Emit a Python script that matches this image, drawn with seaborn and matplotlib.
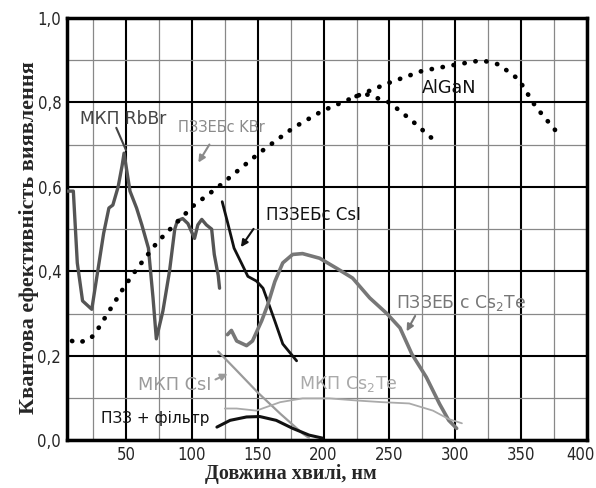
import numpy as np
import pandas as pd
import seaborn as sns
import matplotlib.pyplot as plt
import matplotlib.transforms as mtransforms
from matplotlib.ticker import MultipleLocator, FuncFormatter

# curves (wavelength nm, efficiency)
rbbr_x = [5, 10, 13, 17, 24, 28, 33, 37, 40, 44, 47, 48.5, 53, 58, 62, 67, 70.5, 73,
          78, 83, 87, 89, 93, 97, 102, 104.5, 107.5, 111, 115, 117, 120, 121]
rbbr_y = [0.59, 0.59, 0.42, 0.33, 0.31, 0.39, 0.49, 0.55, 0.557, 0.60, 0.65, 0.68, 0.59, 0.55,
          0.51, 0.455, 0.337, 0.24, 0.306, 0.40, 0.50, 0.52, 0.525, 0.513, 0.478, 0.51, 0.523,
          0.51, 0.50, 0.44, 0.39, 0.36]

csi_x = [123, 127, 132, 138, 142.5, 149, 154, 157.5, 163, 169, 179.5]
csi_y = [0.565, 0.517, 0.455, 0.417, 0.388, 0.377, 0.36, 0.33, 0.282, 0.228, 0.188]

cs2te_x = [127, 130, 134, 141.5, 146, 153, 157.5, 163, 169, 176.5, 184, 197, 210, 222, 235,
           248, 258, 267, 278, 288, 295, 301]
cs2te_y = [0.25, 0.26, 0.235, 0.224, 0.235, 0.283, 0.32, 0.376, 0.42, 0.44, 0.442, 0.431,
           0.407, 0.384, 0.337, 0.30, 0.266, 0.204, 0.149, 0.086, 0.047, 0.028]

mcp_csi_x = [120, 134, 150, 167, 184, 189]
mcp_csi_y = [0.21, 0.165, 0.113, 0.063, 0.016, 0.005]

mcp_cs2te_x = [125, 134, 149, 167, 184, 204.5, 225, 245, 265, 283, 295, 305]
mcp_cs2te_y = [0.075, 0.075, 0.07, 0.09, 0.099, 0.099, 0.094, 0.09, 0.087, 0.07, 0.05, 0.04]

ccd_x = [119, 129, 141.5, 151.5, 164, 176.5, 189, 199]
ccd_y = [0.031, 0.047, 0.055, 0.056, 0.047, 0.028, 0.012, 0.005]

algan_x = [9, 13, 23, 28, 36, 49, 58, 74, 101, 120, 151, 177, 199, 225, 250, 275, 301,
           320, 333, 348, 361, 377]
algan_y = [0.235, 0.23, 0.24, 0.26, 0.30, 0.365, 0.405, 0.47, 0.555, 0.60, 0.68, 0.74, 0.78,
           0.815, 0.847, 0.875, 0.89, 0.90, 0.89, 0.855, 0.79, 0.73]

kbr_x = [225, 232, 250, 267, 283]
kbr_y = [0.815, 0.82, 0.80, 0.757, 0.713]

sns.set_style("white")
plt.rcParams['font.family'] = ['DejaVu Sans']

fig = plt.figure(figsize=(5.96, 4.88), dpi=100)
ax = fig.add_axes([0.112, 0.098, 0.873, 0.865])

solid = [
    (rbbr_x, rbbr_y, "#555555", 2.4),
    (csi_x, csi_y, "#111111", 2.0),
    (cs2te_x, cs2te_y, "#777777", 2.6),
    (mcp_csi_x, mcp_csi_y, "#9a9a9a", 1.6),
    (mcp_cs2te_x, mcp_cs2te_y, "#aaaaaa", 1.3),
    (ccd_x, ccd_y, "#111111", 2.2),
]
for xs, ys, c, w in solid:
    sns.lineplot(x=xs, y=ys, ax=ax, color=c, lw=w, estimator=None, sort=False, zorder=3)

for xs, ys in [(algan_x, algan_y), (kbr_x, kbr_y)]:
    sns.lineplot(x=xs, y=ys, ax=ax, color="black", lw=3.4, estimator=None, sort=False,
                 linestyle=(0, (0.05, 2.3)), dash_capstyle="round", zorder=3)

ax.set_xlim(5, 400)
ax.set_ylim(0, 1.0)
ax.xaxis.set_major_locator(MultipleLocator(50))
ax.xaxis.set_minor_locator(MultipleLocator(25))
ax.yaxis.set_major_locator(MultipleLocator(0.2))
ax.yaxis.set_minor_locator(MultipleLocator(0.1))
ax.yaxis.set_major_formatter(FuncFormatter(lambda v, p: f"{v:.1f}".replace(".", ",")))
ax.grid(which="major", color="black", lw=1.5)
ax.grid(which="minor", color="#888888", lw=0.9)
ax.set_axisbelow(True)
for s in ax.spines.values():
    s.set_color("black")
    s.set_linewidth(2.5)
ax.tick_params(which="both", length=0, labelsize=12, pad=4)
fig.canvas.draw()
for t in ax.get_xticklabels() + ax.get_yticklabels():
    t.set_fontfamily('DejaVu Sans')
    t.set_fontstretch('condensed')
    # "400" sits flush with the right edge, like the original
    if t.get_text() == "400":
        t.set_horizontalalignment("right")
        t.set_transform(t.get_transform()
                        + mtransforms.ScaledTranslation(8 / 100, 0, fig.dpi_scale_trans))

ax.set_xlabel("")
ax.set_ylabel("Квантова ефективність виявлення", fontfamily="Liberation Serif",
              fontweight="bold", fontsize=16)
ax.yaxis.set_label_coords(-0.053, 0.48)
fig.text(0.488, 0.008, "Довжина хвилі, нм", fontfamily="Liberation Serif",
         fontweight="bold", fontsize=14.5, ha="center", va="bottom")

lab = dict(fontfamily='DejaVu Sans', ha="center", va="center", zorder=4)
ax.text(47.5, 0.762, "МКП RbBr", color="#444444", fontsize=12.3, **lab)
ax.plot([42.6, 50], [0.74, 0.687], color="#444444", lw=1.5)
ax.text(122.5, 0.741, "ПЗЗЕБс KBr", color="#8a8a8a", fontsize=10.5, **lab)
ax.annotate("", xy=(103.8, 0.652), xytext=(114.4, 0.706),
            arrowprops=dict(arrowstyle="-|>", color="#8a8a8a", lw=1.5))
ax.text(192, 0.534, "ПЗЗЕБс CsI", color="#111111", fontsize=12, **lab)
ax.annotate("", xy=(136, 0.452), xytext=(148, 0.506),
            arrowprops=dict(arrowstyle="-|>", color="#111111", lw=1.5))
ax.text(295.5, 0.835, "AlGaN", color="#111111", fontsize=12.7, **lab)
ax.text(304, 0.325, "ПЗЗЕБ с Cs$_2$Te", color="#777777", fontsize=12.4, **lab)
ax.annotate("", xy=(262, 0.252), xytext=(270.5, 0.30),
            arrowprops=dict(arrowstyle="-|>", color="#777777", lw=1.5))
ax.text(87, 0.13, "МКП CsI", color="#9a9a9a", fontsize=12.8, **lab)
ax.annotate("", xy=(129, 0.16), xytext=(116, 0.141),
            arrowprops=dict(arrowstyle="-|>", color="#9a9a9a", lw=1.5))
ax.text(219, 0.134, "МКП Cs$_2$Te", color="#aaaaaa", fontsize=12.6, **lab)
ax.text(72, 0.052, "ПЗЗ + фільтр", color="#111111", fontsize=11, **lab)

fig.savefig("out.png", dpi=100)
